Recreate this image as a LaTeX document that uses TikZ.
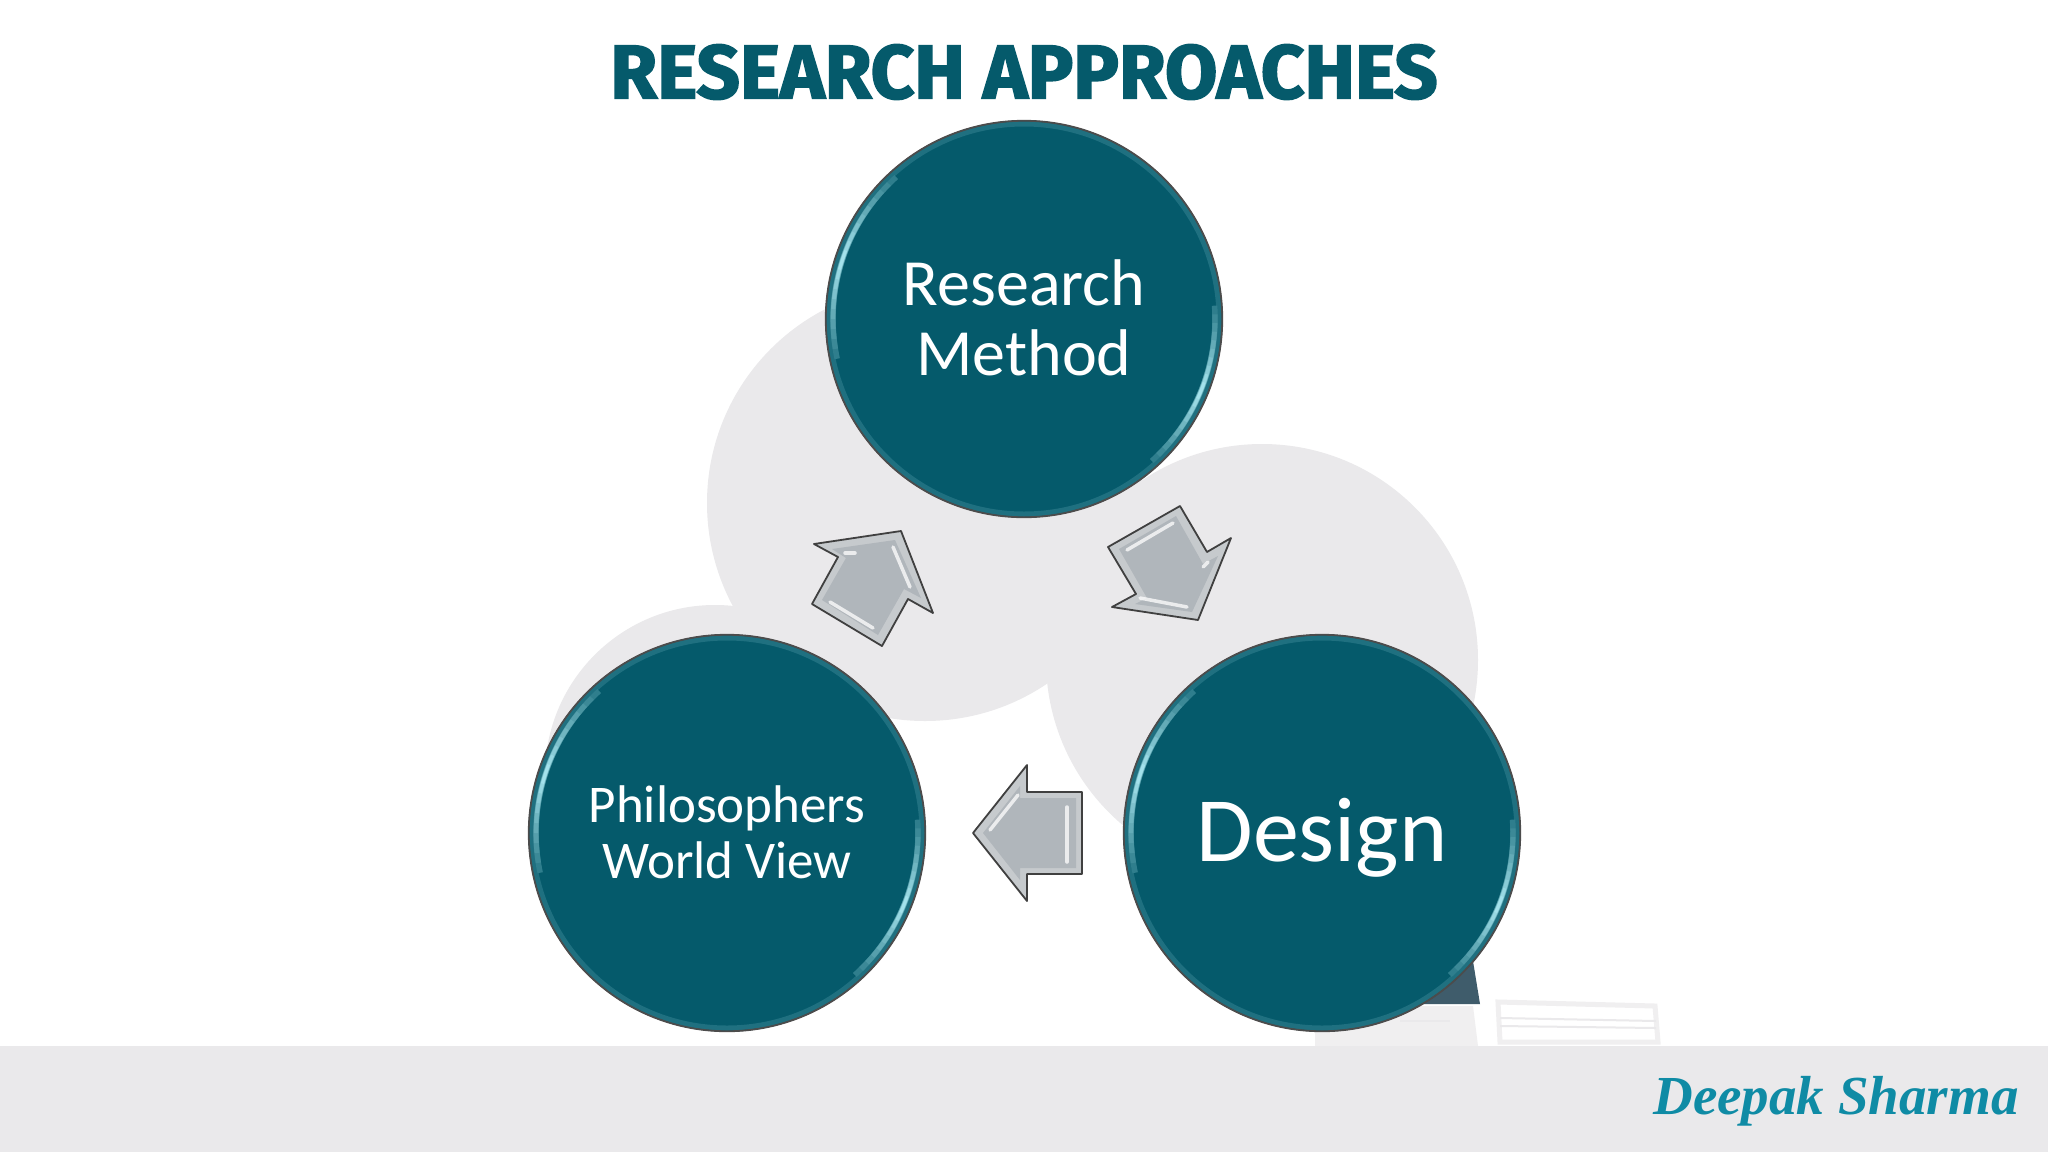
\documentclass[tikz,border=0pt]{standalone}
\usepackage{fontspec}
\setmainfont{DejaVu Sans}
\newfontfamily\titlefont[FakeBold=2.2]{Fira Sans}
\newfontfamily\handfont{Carlito}
\newfontfamily\signfont{Liberation Serif}
\definecolor{teal1}{HTML}{055A6B}
\definecolor{ringc}{HTML}{1F7080}
\definecolor{rimc}{HTML}{A8E6EF}
\definecolor{greyb}{HTML}{EAE9EB}
\definecolor{greyc}{HTML}{F0EFF0}
\definecolor{darkt}{HTML}{3F5C6B}
\definecolor{arrowc}{HTML}{B0B6BB}
\definecolor{arrowl}{HTML}{C6CACD}
\definecolor{signc}{HTML}{0F8BA5}
\newcommand{\rimarc}[3]{%
 \foreach \k in {0,1,...,9}{
  \pgfmathsetmacro{\sa}{#2+0.05*\k*(#3-#2)}
  \pgfmathsetmacro{\ea}{#3-0.05*\k*(#3-#2)}
  \pgfmathsetmacro{\mixv}{int(12+9.5*\k)}
  \pgfmathsetmacro{\wv}{5.5-0.3*\k}
  \draw[draw=rimc!\mixv!ringc,line width=\wv pt] (#1.center) ++(\sa:191) arc (\sa:\ea:191);
 }
}
\begin{document}
\begin{tikzpicture}[x=1pt,y=-1pt]
\tikzset{
 disc/.style={circle,draw=black!70,line width=1.3pt,fill=teal1,minimum size=397pt,inner sep=0pt},
 blob/.style={fill=greyb,draw=none},
 arr/.style={draw=black!75,line width=1.8pt,fill=arrowl,line join=round},
 face/.style={fill=arrowc,draw=none},
 shine/.style={draw=white,line width=3.5pt,line cap=round,opacity=.75}
}
\useasboundingbox (0,0) rectangle (2048,1152);
\fill[white] (0,0) rectangle (2048,1152);
\fill[blob] (925,503) circle (218);
\fill[blob] (1262,660) circle (216);
\fill[blob] (715,775) circle (170);
\fill[greyb] (0,1046) rectangle (2048,1152);
\fill[darkt] (1472,955) -- (1480,1004) -- (1380,1004) -- cycle;
\fill[greyc] (1315,1006) -- (1473,1006) -- (1478,1046) -- (1315,1046) -- cycle;
\draw[greyb,line width=2pt] (1400,1021) -- (1450,1021);
\draw[greyc,line width=5pt] (1498,1002) -- (1655,1006) -- (1658,1042) -- (1500,1042) -- cycle;
\draw[greyb,line width=2pt] (1500,1018) -- (1656,1021) (1500,1026) -- (1656,1028);
\node[disc] (method) at (1024,319) {};
\node[disc] (design) at (1322,833) {};
\node[disc] (world) at (727,833) {};
\foreach \n in {method,design,world}{
 \draw[draw=ringc,line width=5pt] (\n.center) circle (195);
 \draw[draw=black!70,line width=1.3pt] (\n.center) circle (198);
 \rimarc{\n}{168}{228}
 \rimarc{\n}{-4}{48}
}
\node[text=white,font=\handfont\fontsize{66}{70}\selectfont,align=center] (tm) at (1024,318) {Research\\Method};
\node[text=white,font=\handfont\fontsize{92}{100}\selectfont] (td) at (1322,838) {Design};
\node[text=white,font=\handfont\fontsize{53}{56}\selectfont,align=center] (tw) at (727,832) {Philosophers\\World View};
\node[font=\titlefont\bfseries\fontsize{76}{86}\selectfont,text=teal1] (title) at (1024,72) {RESEARCH APPROACHES};
\node[font=\signfont\bfseries\itshape\fontsize{55}{70}\selectfont,text=signc] (sign) at (1836,1101) {Deepak Sharma};
% arrows
\draw[arr] (1180,506) -- (1108,547) -- (1136,594) -- (1112,607) -- (1198,620) -- (1231,538) -- (1207,552) -- cycle;
\fill[face] (1176,516) -- (1119,549) -- (1147,598) -- (1135,604) -- (1192,612) -- (1218,556) -- (1203,564) -- cycle;
\draw[shine] (1127,550) -- (1173,523);
\draw[shine] (1140,598) -- (1187,607);
\draw[shine] (1203,567) -- (1208,562);
\draw[arr] (1082,792) -- (1027,792) -- (1027,765) -- (973,833) -- (1027,901) -- (1027,874) -- (1082,874) -- cycle;
\fill[face] (1076,798) -- (1020,798) -- (1020,786) -- (983,833) -- (1020,880) -- (1020,868) -- (1076,868) -- cycle;
\draw[shine] (1018,795) -- (990,830);
\draw[shine] (1067,807) -- (1067,862);
\draw[arr] (901,531) -- (814,544) -- (838,557) -- (812,604) -- (882,646) -- (908,599) -- (933,613) -- cycle;
\fill[face] (895,540) -- (832,549) -- (846,558) -- (822,600) -- (878,635) -- (904,589) -- (921,598) -- cycle;
\draw[shine] (893,547) -- (910,587);
\draw[shine] (830,602) -- (873,628);
\draw[shine] (845,553) -- (855,553);
\end{tikzpicture}
\end{document}
